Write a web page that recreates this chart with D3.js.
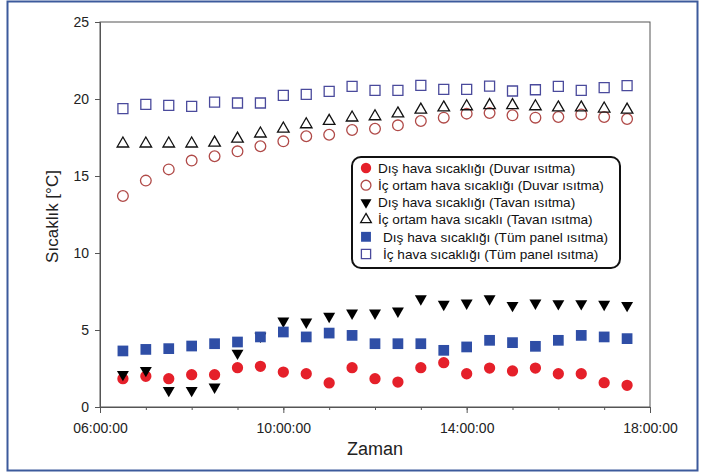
<!DOCTYPE html>
<html>
<head>
<meta charset="utf-8">
<script src="https://cdn.jsdelivr.net/npm/d3@7"></script>
<style>
  body { margin: 0; background: #fff; }
  text { font-family: "Liberation Sans", Arial, sans-serif; }
</style>
</head>
<body>
<div id="chart"></div>
<script>
// measurement times (every half hour)
var times = ["06:30","07:00","07:30","08:00","08:30","09:00","09:30","10:00","10:30","11:00","11:30","12:00",
             "12:30","13:00","13:30","14:00","14:30","15:00","15:30","16:00","16:30","17:00","17:30"];

// Duvar ısıtma
var disDuvar = [1.84, 1.99, 1.84, 2.1, 2.1, 2.55, 2.64, 2.27, 2.16, 1.56, 2.55, 1.84,
                1.62, 2.55, 2.88, 2.16, 2.53, 2.34, 2.53, 2.16, 2.16, 1.58, 1.41];
var icDuvar = [13.7, 14.7, 15.43, 16.0, 16.28, 16.6, 16.93, 17.25, 17.58, 17.68, 17.99, 18.07,
               18.29, 18.57, 18.79, 19.05, 19.09, 18.94, 18.79, 18.83, 19.0, 18.83, 18.7];
// Tavan ısıtma
var disTavan = [2.12, 2.38, 1.08, 1.08, 1.3, 3.5, 4.6, 5.58, 5.52, 5.89, 6.1, 6.1,
                6.23, 7.03, 6.67, 6.75, 7.03, 6.6, 6.75, 6.71, 6.71, 6.67, 6.6];
var icTavan = [17.1, 17.1, 17.1, 17.1, 17.16, 17.42, 17.75, 18.07, 18.35, 18.57, 18.79, 18.87,
               19.05, 19.3, 19.44, 19.52, 19.59, 19.59, 19.52, 19.44, 19.44, 19.37, 19.3];
// Tüm panel ısıtma
var disPanel = [3.64, 3.74, 3.79, 3.96, 4.11, 4.22, 4.55, 4.87, 4.55, 4.8, 4.65, 4.11,
                4.11, 4.11, 3.68, 3.9, 4.33, 4.18, 3.94, 4.33, 4.65, 4.55, 4.44];
var icPanel = [19.37, 19.65, 19.59, 19.52, 19.8, 19.74, 19.74, 20.24, 20.3, 20.5, 20.82, 20.56,
               20.56, 20.89, 20.63, 20.63, 20.84, 20.52, 20.6, 20.82, 20.56, 20.74, 20.87];

var yTicks = [0, 5, 10, 15, 20, 25];
var xLabelTicks = ["06:00","10:00","14:00","18:00"];

var seriesNames = [
  "Dış hava sıcaklığı (Duvar ısıtma)",
  "İç ortam hava sıcaklığı (Duvar ısıtma)",
  "Dış hava sıcaklığı (Tavan ısıtma)",
  "İç ortam hava sıcaklı (Tavan ısıtma)",
  "Dış hava sıcaklığı (Tüm panel ısıtma)",
  "İç hava sıcaklığı (Tüm panel ısıtma)"
];

var parseT = d3.timeParse("%H:%M");

var series = [
  {name: seriesNames[0], values: disDuvar, shape: d3.symbolCircle, size: 100, fill: "#e5202a", stroke: "none", rot: 0},
  {name: seriesNames[1], values: icDuvar, shape: d3.symbolCircle, size: 90, fill: "none", stroke: "#b04a48", rot: 0},
  {name: seriesNames[2], values: disTavan, shape: d3.symbolTriangle, size: 62, fill: "#000", stroke: "none", rot: 180},
  {name: seriesNames[3], values: icTavan, shape: d3.symbolTriangle, size: 58, fill: "none", stroke: "#111", rot: 0},
  {name: seriesNames[4], values: disPanel, shape: d3.symbolSquare, size: 115, fill: "#2f4ea6", stroke: "none", rot: 0},
  {name: seriesNames[5], values: icPanel, shape: d3.symbolSquare, size: 100, fill: "none", stroke: "#4a4a9c", rot: 0}
];

var svgWidth = 705, svgHeight = 475;
var margin = {top: 22, right: 55, bottom: 68, left: 100};
var width = svgWidth - margin.left - margin.right;
var height = svgHeight - margin.top - margin.bottom;

var svg = d3.select("#chart").append("svg")
  .attr("width", svgWidth)
  .attr("height", svgHeight);

// outer frame
svg.append("rect")
  .attr("x", 7.5).attr("y", 1.5)
  .attr("width", 690).attr("height", 469)
  .attr("fill", "#fff")
  .attr("stroke", "#3c5a9c")
  .attr("stroke-width", 2);

var g = svg.append("g")
  .attr("transform", `translate(${margin.left}, ${margin.top})`);

var x = d3.scaleTime()
  .domain([parseT("06:00"), parseT("18:00")])
  .range([0, width]);
var y = d3.scaleLinear()
  .domain([0, 25])
  .range([height, 0]);

// plot box (top and right)
g.append("rect")
  .attr("width", width).attr("height", height)
  .attr("fill", "none")
  .attr("stroke", "#555")
  .attr("stroke-width", 1);

// minor x ticks
g.append("g")
  .attr("transform", `translate(0, ${height})`)
  .call(d3.axisBottom(x).ticks(d3.timeHour.every(1)).tickSize(3).tickFormat(""))
  .call(a => a.select(".domain").remove())
  .call(a => a.selectAll("line").attr("stroke", "#555"));

// major x axis
var xAxis = g.append("g")
  .attr("transform", `translate(0, ${height})`)
  .call(d3.axisBottom(x)
    .tickValues(xLabelTicks.map(parseT))
    .tickSize(6)
    .tickPadding(10)
    .tickFormat(d3.timeFormat("%H:%M:%S")));
xAxis.select(".domain").attr("stroke", "#555");
xAxis.selectAll("line").attr("stroke", "#555");
xAxis.selectAll("text").attr("font-size", 14).attr("fill", "#222")
  .attr("font-family", "Liberation Sans, Arial, sans-serif");

var yAxis = g.append("g")
  .call(d3.axisLeft(y).tickValues(yTicks).tickSize(5).tickPadding(6));
yAxis.select(".domain").attr("stroke", "#555");
yAxis.selectAll("line").attr("stroke", "#555");
yAxis.selectAll("text").attr("font-size", 14).attr("fill", "#222")
  .attr("font-family", "Liberation Sans, Arial, sans-serif");

// axis titles
svg.append("text")
  .attr("x", margin.left + width / 2)
  .attr("y", 455)
  .attr("text-anchor", "middle")
  .attr("font-size", 18)
  .attr("fill", "#222")
  .text("Zaman");

svg.append("text")
  .attr("transform", `translate(58, ${margin.top + height / 2 + 2}) rotate(-90)`)
  .attr("text-anchor", "middle")
  .attr("font-size", 17)
  .attr("fill", "#222")
  .text("Sıcaklık [°C]");

// points
series.forEach(function(s) {
  var sym = d3.symbol().type(s.shape).size(s.size);
  g.append("g").selectAll("path")
    .data(s.values)
    .join("path")
    .attr("d", sym)
    .attr("transform", (d, i) => `translate(${x(parseT(times[i]))}, ${y(d)}) rotate(${s.rot})`)
    .attr("fill", s.fill)
    .attr("stroke", s.stroke)
    .attr("stroke-width", 1.3);
});

// legend
var legend = svg.append("g").attr("transform", "translate(352, 157)");
legend.append("rect")
  .attr("width", 268).attr("height", 111)
  .attr("rx", 9).attr("ry", 9)
  .attr("fill", "#fff")
  .attr("stroke", "#111")
  .attr("stroke-width", 2);

series.forEach(function(s, i) {
  var row = legend.append("g").attr("transform", `translate(14, ${11 + i * 17.2})`);
  row.append("path")
    .attr("d", d3.symbol().type(s.shape).size(s.size * 0.85))
    .attr("transform", `rotate(${s.rot})`)
    .attr("fill", s.fill)
    .attr("stroke", s.stroke)
    .attr("stroke-width", 1.3);
  row.append("text")
    .attr("x", i >= 4 ? 17 : 12)
    .attr("dy", "0.35em")
    .attr("font-size", 13.6)
    .attr("fill", "#111")
    .text(s.name);
});
</script>
</body>
</html>
